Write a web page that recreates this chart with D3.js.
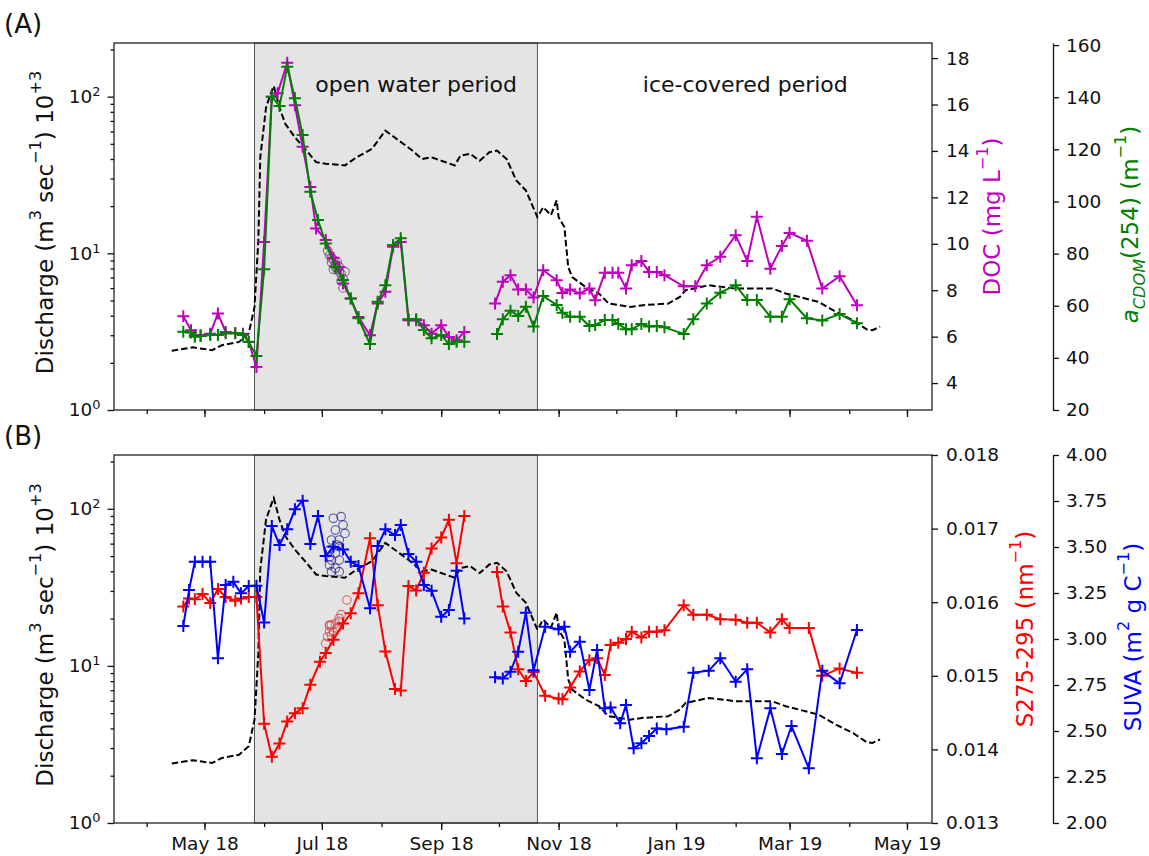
<!DOCTYPE html>
<html>
<head>
<meta charset="utf-8">
<script src="https://cdn.jsdelivr.net/npm/d3@7"></script>
<style>
body { margin: 0; background: #fff; }
svg { font-family: "DejaVu Sans", sans-serif; }
</style>
</head>
<body>
<div class="chart"></div>
<script>
const width = 1149
const height = 856

// discharge, 10^3 m3/s (same record in both panels)
const discharge = [
    ["2018-04-14", 2.39], ["2018-04-25", 2.51], ["2018-05-05", 2.41], ["2018-05-10", 2.59],
    ["2018-05-19", 2.72], ["2018-05-24", 3.08], ["2018-05-27", 4.55], ["2018-05-29", 12.1],
    ["2018-05-30", 41], ["2018-06-02", 85.5], ["2018-06-05", 109], ["2018-06-06", 117],
    ["2018-06-09", 85], ["2018-06-12", 67], ["2018-06-17", 55], ["2018-06-23", 45.3],
    ["2018-06-28", 38.2], ["2018-07-03", 37.3], ["2018-07-13", 36.4], ["2018-07-19", 41],
    ["2018-07-27", 46.4], ["2018-08-03", 60.7], ["2018-08-10", 52.5], ["2018-08-17", 45.3],
    ["2018-08-22", 40], ["2018-08-27", 41], ["2018-09-08", 36.4], ["2018-09-11", 42],
    ["2018-09-16", 43.2], ["2018-09-21", 39], ["2018-09-26", 44.2], ["2018-09-30", 45.3],
    ["2018-10-05", 40], ["2018-10-10", 29.2], ["2018-10-15", 25.2], ["2018-10-18", 20.7],
    ["2018-10-21", 17], ["2018-10-24", 19.7], ["2018-10-28", 17.5], ["2018-10-31", 21.8],
    ["2018-11-01", 17], ["2018-11-04", 14.7], ["2018-11-06", 8.18], ["2018-11-08", 7.06],
    ["2018-11-15", 6.1], ["2018-11-22", 5.54], ["2018-11-27", 4.78], ["2018-12-08", 4.55],
    ["2018-12-15", 4.67], ["2018-12-28", 4.78], ["2019-01-03", 5.27], ["2019-01-06", 5.81],
    ["2019-01-18", 6.25], ["2019-02-01", 5.96], ["2019-02-20", 5.96], ["2019-02-27", 5.54],
    ["2019-03-16", 4.9], ["2019-03-25", 4.23], ["2019-04-03", 3.74], ["2019-04-10", 3.27],
    ["2019-04-13", 3.23], ["2019-04-17", 3.4]
]

// DOC, mg/L
const doc = [
    ["2018-04-20", 6.88], ["2018-04-24", 6.28], ["2018-04-26", 6.06], ["2018-04-29", 6.06],
    ["2018-05-04", 6.13], ["2018-05-08", 7.0], ["2018-05-12", 6.2], ["2018-05-17", 6.16],
    ["2018-05-21", 6.13], ["2018-05-24", 5.77], ["2018-05-28", 4.69],
    ["2018-06-01", 10.08], ["2018-06-05", 16.33], ["2018-06-08", 16.48], ["2018-06-13", 17.8],
    ["2018-06-17", 15.97], ["2018-06-21", 14.18], ["2018-06-25", 12.45], ["2018-06-28", 10.66],
    ["2018-07-03", 10.16], ["2018-07-07", 9.4], ["2018-07-10", 9.0], ["2018-07-12", 8.29],
    ["2018-07-16", 7.64], ["2018-07-20", 6.85], ["2018-07-26", 6.06], ["2018-07-30", 7.43],
    ["2018-08-03", 7.93], ["2018-08-07", 9.87], ["2018-08-11", 10.08], ["2018-08-15", 6.71],
    ["2018-08-19", 6.71], ["2018-08-23", 6.49], ["2018-08-27", 6.13], ["2018-09-01", 6.49],
    ["2018-09-05", 5.99], ["2018-09-09", 5.84], ["2018-09-13", 6.2],
    ["2018-09-20", null],
    ["2018-09-29", 7.43], ["2018-10-03", 8.36], ["2018-10-07", 8.65], ["2018-10-11", 8.03],
    ["2018-10-15", 8.03], ["2018-10-19", 7.69], ["2018-10-24", 8.86], ["2018-10-31", 8.43],
    ["2018-11-03", 7.88], ["2018-11-07", 8.03], ["2018-11-12", 7.86], ["2018-11-17", 8.07],
    ["2018-11-20", 7.57], ["2018-11-25", 8.75], ["2018-11-29", 8.75], ["2018-12-02", 8.75],
    ["2018-12-06", 8.07], ["2018-12-09", 9.08], ["2018-12-14", 9.26], ["2018-12-18", 8.79],
    ["2018-12-22", 8.79], ["2018-12-26", 8.65], ["2019-01-05", 8.17], ["2019-01-11", 8.17],
    ["2019-01-17", 9.08], ["2019-01-24", 9.44], ["2019-02-01", 10.37], ["2019-02-07", 9.26],
    ["2019-02-12", 11.16], ["2019-02-19", 8.93], ["2019-02-25", 9.9], ["2019-03-01", 10.47],
    ["2019-03-10", 10.13], ["2019-03-18", 8.07], ["2019-03-27", 8.6], ["2019-04-05", 7.35]
]

// aCDOM(254), 1/m
const acdom = [
    ["2018-04-20", 50.0], ["2018-04-24", 49.7], ["2018-04-26", 48.1], ["2018-04-29", 48.4],
    ["2018-05-04", 48.8], ["2018-05-08", 48.8], ["2018-05-12", 49.4], ["2018-05-17", 49.4],
    ["2018-05-21", 48.8], ["2018-05-24", 46.2], ["2018-05-28", 40.7],
    ["2018-06-01", 74.0], ["2018-06-05", 140.2], ["2018-06-09", 136.6], ["2018-06-13", 151.7],
    ["2018-06-17", 139.6], ["2018-06-21", 125.5], ["2018-06-25", 103.7], ["2018-06-29", 92.9],
    ["2018-07-03", 83.9], ["2018-07-08", 75.0], ["2018-07-12", 69.9], ["2018-07-16", 62.8],
    ["2018-07-20", 55.2], ["2018-07-26", 45.3], ["2018-07-30", 61.5], ["2018-08-03", 67.9],
    ["2018-08-07", 83.3], ["2018-08-11", 85.9], ["2018-08-15", 54.8], ["2018-08-19", 54.8],
    ["2018-08-23", 50.7], ["2018-08-27", 47.5], ["2018-09-01", 48.8], ["2018-09-05", 45.3],
    ["2018-09-09", 46.2], ["2018-09-13", 46.2],
    ["2018-09-20", null],
    ["2018-09-30", 49.2], ["2018-10-03", 54.8], ["2018-10-07", 58.1], ["2018-10-11", 56.1],
    ["2018-10-15", 59.6], ["2018-10-19", 52.0], ["2018-10-24", 63.7], ["2018-10-31", 60.3],
    ["2018-11-03", 57.3], ["2018-11-07", 55.8], ["2018-11-12", 55.8], ["2018-11-17", 52.2],
    ["2018-11-20", 52.6], ["2018-11-25", 54.5], ["2018-11-29", 54.5], ["2018-12-02", 53.0],
    ["2018-12-06", 51.0], ["2018-12-09", 51.0], ["2018-12-14", 53.0], ["2018-12-18", 52.0],
    ["2018-12-22", 52.2], ["2018-12-26", 51.7], ["2019-01-05", 49.2], ["2019-01-10", 54.8],
    ["2019-01-17", 60.9], ["2019-01-24", 65.0], ["2019-02-01", 67.9], ["2019-02-07", 62.2],
    ["2019-02-12", 62.2], ["2019-02-19", 55.8], ["2019-02-25", 55.8], ["2019-03-01", 62.5],
    ["2019-03-10", 55.2], ["2019-03-18", 54.3], ["2019-03-27", 56.8], ["2019-04-05", 53.3]
]

// high frequency DOC samples (circles)
const docCircles = [
    ["2018-07-04", 9.7], ["2018-07-05", 9.5], ["2018-07-06", 9.4], ["2018-07-06", 9.2],
    ["2018-07-07", 9.3], ["2018-07-08", 9.1], ["2018-07-08", 9.0], ["2018-07-09", 9.2],
    ["2018-07-09", 8.9], ["2018-07-10", 8.8], ["2018-07-10", 9.0], ["2018-07-11", 8.7],
    ["2018-07-11", 8.4], ["2018-07-12", 8.1], ["2018-07-12", 8.5], ["2018-07-13", 8.8],
    ["2018-07-07", 8.9]
]

// spectral slope S275-295, 1/nm
const slope = [
    ["2018-04-20", 0.01594], ["2018-04-23", 0.01605], ["2018-04-26", 0.01604], ["2018-04-30", 0.01611],
    ["2018-05-04", 0.01599], ["2018-05-08", 0.01618], ["2018-05-12", 0.01607], ["2018-05-17", 0.01602],
    ["2018-05-20", 0.01605], ["2018-05-24", 0.01607], ["2018-05-28", 0.01607],
    ["2018-06-01", 0.01435], ["2018-06-05", 0.0139], ["2018-06-09", 0.01408], ["2018-06-13", 0.01438],
    ["2018-06-17", 0.01449], ["2018-06-21", 0.01456], ["2018-06-25", 0.01488], ["2018-06-30", 0.01519],
    ["2018-07-03", 0.01531], ["2018-07-07", 0.01549], ["2018-07-12", 0.01571], ["2018-07-16", 0.01585],
    ["2018-07-20", 0.01612], ["2018-07-26", 0.01687], ["2018-07-30", 0.01596], ["2018-08-03", 0.01533],
    ["2018-08-08", 0.01482], ["2018-08-11", 0.0148], ["2018-08-15", 0.01622], ["2018-08-19", 0.01616],
    ["2018-08-23", 0.0164], ["2018-08-27", 0.01673], ["2018-09-01", 0.01688], ["2018-09-05", 0.01712],
    ["2018-09-09", 0.01653], ["2018-09-13", 0.01717],
    ["2018-09-20", null],
    ["2018-09-30", 0.01641], ["2018-10-03", 0.01594], ["2018-10-07", 0.01559], ["2018-10-11", 0.01509],
    ["2018-10-15", 0.01493], ["2018-10-19", 0.01505], ["2018-10-25", 0.01473], ["2018-11-01", 0.01469],
    ["2018-11-03", 0.01468], ["2018-11-07", 0.01484], ["2018-11-12", 0.01506], ["2018-11-17", 0.01521],
    ["2018-11-21", 0.01524], ["2018-11-25", 0.01501], ["2018-11-28", 0.01542], ["2018-12-02", 0.01545],
    ["2018-12-06", 0.0155], ["2018-12-09", 0.0156], ["2018-12-14", 0.01552], ["2018-12-18", 0.0156],
    ["2018-12-22", 0.0156], ["2018-12-26", 0.01562], ["2019-01-05", 0.01596], ["2019-01-10", 0.01583],
    ["2019-01-17", 0.01583], ["2019-01-24", 0.01577], ["2019-02-01", 0.01576], ["2019-02-07", 0.01572],
    ["2019-02-12", 0.01572], ["2019-02-19", 0.01559], ["2019-02-25", 0.01577], ["2019-03-01", 0.01565],
    ["2019-03-11", 0.01565], ["2019-03-18", 0.015], ["2019-03-27", 0.0151], ["2019-04-05", 0.01504]
]

const slopeCircles = [
    ["2018-07-14", 0.01603], ["2018-07-11", 0.01583], ["2018-07-10", 0.01578], ["2018-07-08", 0.01571],
    ["2018-07-06", 0.01569], ["2018-07-05", 0.01568], ["2018-07-05", 0.0156], ["2018-07-04", 0.01553],
    ["2018-07-03", 0.01544], ["2018-07-06", 0.01555], ["2018-07-07", 0.01559], ["2018-07-09", 0.01565],
    ["2018-07-10", 0.01574], ["2018-07-05", 0.01569]
]

// SUVA, m2/gC
const suva = [
    ["2018-04-20", 3.071], ["2018-04-23", 3.266], ["2018-04-26", 3.42], ["2018-04-30", 3.42],
    ["2018-05-04", 3.42], ["2018-05-08", 2.895], ["2018-05-12", 3.293], ["2018-05-16", 3.311],
    ["2018-05-20", 3.248], ["2018-05-24", 3.288], ["2018-05-28", 3.29],
    ["2018-06-01", 3.089], ["2018-06-05", 3.614], ["2018-06-09", 3.511], ["2018-06-13", 3.596],
    ["2018-06-17", 3.705], ["2018-06-21", 3.752], ["2018-06-25", 3.516], ["2018-06-29", 3.668],
    ["2018-07-03", 3.451], ["2018-07-07", 3.502], ["2018-07-12", 3.487], ["2018-07-16", 3.42],
    ["2018-07-20", 3.397], ["2018-07-26", 3.167], ["2018-07-30", 3.505], ["2018-08-03", 3.596],
    ["2018-08-08", 3.565], ["2018-08-11", 3.62], ["2018-08-15", 3.462], ["2018-08-19", 3.42],
    ["2018-08-23", 3.293], ["2018-08-27", 3.262], ["2018-09-01", 3.121], ["2018-09-05", 3.158],
    ["2018-09-09", 3.371], ["2018-09-13", 3.112],
    ["2018-09-20", null],
    ["2018-09-29", 2.792], ["2018-10-03", 2.786], ["2018-10-07", 2.822], ["2018-10-11", 2.931],
    ["2018-10-15", 3.143], ["2018-10-19", 2.83], ["2018-10-25", 3.067], ["2018-11-01", 3.053],
    ["2018-11-04", 3.067], ["2018-11-07", 2.931], ["2018-11-12", 2.985], ["2018-11-17", 2.723],
    ["2018-11-21", 2.94], ["2018-11-25", 2.623], ["2018-11-28", 2.628], ["2018-12-03", 2.542],
    ["2018-12-06", 2.641], ["2018-12-10", 2.406], ["2018-12-14", 2.433], ["2018-12-18", 2.473],
    ["2018-12-22", 2.514], ["2018-12-27", 2.509], ["2019-01-05", 2.523], ["2019-01-10", 2.817],
    ["2019-01-18", 2.828], ["2019-01-24", 2.895], ["2019-02-01", 2.768], ["2019-02-07", 2.835],
    ["2019-02-12", 2.352], ["2019-02-19", 2.623], ["2019-02-25", 2.375], ["2019-03-02", 2.527],
    ["2019-03-11", 2.297], ["2019-03-18", 2.828], ["2019-03-27", 2.759], ["2019-04-05", 3.049]
]

const suvaCircles = [
    ["2018-07-07", 3.656], ["2018-07-11", 3.665], ["2018-07-08", 3.592], ["2018-07-12", 3.62],
    ["2018-07-13", 3.574], ["2018-07-06", 3.538], ["2018-07-10", 3.538], ["2018-07-10", 3.502],
    ["2018-07-05", 3.484], ["2018-07-08", 3.466], ["2018-07-06", 3.429], ["2018-07-10", 3.429],
    ["2018-07-05", 3.402], ["2018-07-08", 3.384], ["2018-07-06", 3.366], ["2018-07-10", 3.366],
    ["2018-07-05", 3.447], ["2018-07-09", 3.511]
]

const openWater = ["2018-05-27", "2018-10-21"]
const dischargeTicks = [1, 10, 100]
const docTicks = [4, 6, 8, 10, 12, 14, 16, 18]
const acdomTicks = [20, 40, 60, 80, 100, 120, 140, 160]
const slopeTicks = [0.013, 0.014, 0.015, 0.016, 0.017, 0.018]
const suvaTicks = [2.0, 2.25, 2.5, 2.75, 3.0, 3.25, 3.5, 3.75, 4.0]

const parse = d3.utcParse("%Y-%m-%d")
const tickFont = 18.5
const labelFont = 23

const svg = d3.select(".chart")
    .append("svg")
    .attr("width", width)
    .attr("height", height)

const left = 114, right = 932, offsetAxis = 1053

const x = d3.scaleUtc()
    .domain([parse("2018-03-15"), parse("2019-05-14")])
    .range([left, right])

// text with super/subscripts: parts = [text, "sup"|"sub"|"", italic]
function rich(text, parts) {
    parts.forEach(p => {
        const t = text.append("tspan").text(p[0])
        if (p[1] === "sup") t.attr("baseline-shift", "super").attr("font-size", "70%")
        if (p[1] === "sub") t.attr("baseline-shift", "sub").attr("font-size", "70%")
        if (p[2]) t.attr("font-style", "italic")
    })
}

function styleAxis(ax) {
    ax.attr("font-size", tickFont).attr("font-family", "DejaVu Sans")
    ax.selectAll("path.domain").attr("stroke", "#111").attr("stroke-width", 1.3)
    ax.selectAll(".tick line").attr("stroke", "#111").attr("stroke-width", 1.3)
    ax.selectAll(".tick text").attr("fill", "#111")
}

function drawPanel(p) {
    const top = p.top, bottom = p.bottom
    const g = svg.append("g")

    const yQ = d3.scaleLog().domain([1, 220]).range([bottom, top])
    const y1 = d3.scaleLinear().domain(p.dom1).range([bottom, top])
    const y2 = d3.scaleLinear().domain(p.dom2).range([bottom, top])

    // open water shading
    const x0 = x(parse(openWater[0])), x1 = x(parse(openWater[1]))
    g.append("rect")
        .attr("x", x0).attr("y", top)
        .attr("width", x1 - x0).attr("height", bottom - top)
        .attr("fill", "#e4e4e4")
        .attr("stroke", "#555")
        .attr("stroke-width", 1)

    if (p.texts) {
        p.texts.forEach(t => {
            g.append("text")
                .attr("x", x(parse(t[1])))
                .attr("y", top + 48.5)
                .attr("text-anchor", "middle")
                .attr("font-size", 22)
                .attr("fill", "#111")
                .text(t[0])
        })
    }

    // discharge
    g.append("path")
        .datum(discharge)
        .attr("fill", "none")
        .attr("stroke", "#000")
        .attr("stroke-width", 2)
        .attr("stroke-dasharray", "6.5,3")
        .attr("d", d3.line().x(d => x(parse(d[0]))).y(d => yQ(d[1])))

    const series = [
        {data: p.s1, y: y1, color: p.c1, circles: p.circ1, circColor: p.cc1},
        {data: p.s2, y: y2, color: p.c2, circles: p.circ2, circColor: p.cc2}
    ]
    series.forEach(s => {
        if (s.circles) {
            g.selectAll(null)
                .data(s.circles)
                .enter().append("circle")
                .attr("cx", d => x(parse(d[0])))
                .attr("cy", d => s.y(d[1]))
                .attr("r", 4.3)
                .attr("fill", "none")
                .attr("stroke", s.circColor)
                .attr("stroke-opacity", 0.75)
                .attr("stroke-width", 1.1)
        }
        g.append("path")
            .datum(s.data)
            .attr("fill", "none")
            .attr("stroke", s.color)
            .attr("stroke-width", 2)
            .attr("d", d3.line()
                .defined(d => d[1] != null)
                .x(d => x(parse(d[0])))
                .y(d => s.y(d[1])))
        g.selectAll(null)
            .data(s.data.filter(d => d[1] != null))
            .enter().append("path")
            .attr("transform", d => `translate(${x(parse(d[0]))},${s.y(d[1])})`)
            .attr("d", "M-6,0H6M0,-6V6")
            .attr("stroke", s.color)
            .attr("stroke-width", 2)
    })

    // frame
    g.append("rect")
        .attr("x", left).attr("y", top)
        .attr("width", right - left).attr("height", bottom - top)
        .attr("fill", "none")
        .attr("stroke", "#222")
        .attr("stroke-width", 1.3)

    // x axis: minor monthly, major every two months
    const xMinor = g.append("g")
        .attr("transform", `translate(0,${bottom})`)
        .call(d3.axisBottom(x).ticks(d3.utcMonth.every(1)).tickSize(4).tickFormat(""))
    xMinor.select("path.domain").remove()
    styleAxis(xMinor)
    const xMajor = g.append("g")
        .attr("transform", `translate(0,${bottom})`)
        .call(d3.axisBottom(x).ticks(d3.utcMonth.every(2)).tickSize(7).tickPadding(7)
            .tickFormat(p.xLabels ? d3.utcFormat("%b %y") : ""))
    xMajor.select("path.domain").remove()
    styleAxis(xMajor)

    // left log axis
    const minor = []
    for (let e = 0; e < 3; e++) for (let m = 2; m <= 9; m++) {
        const v = m * Math.pow(10, e)
        if (v <= 220) minor.push(v)
    }
    const yMinor = g.append("g")
        .attr("transform", `translate(${left},0)`)
        .call(d3.axisLeft(yQ).tickValues(minor).tickSize(3.5).tickFormat(""))
    yMinor.select("path.domain").remove()
    styleAxis(yMinor)
    const yMajor = g.append("g")
        .attr("transform", `translate(${left},0)`)
        .call(d3.axisLeft(yQ).tickValues(dischargeTicks).tickSize(6.5).tickPadding(7).tickFormat(""))
    yMajor.select("path.domain").remove()
    styleAxis(yMajor)
    yMajor.selectAll(".tick text").each(function(d) {
        rich(d3.select(this), [["10", ""], [String(Math.round(Math.log10(d))), "sup"]])
    })

    // right axis on the frame
    const yR1 = g.append("g")
        .attr("transform", `translate(${right},0)`)
        .call(d3.axisRight(y1).tickValues(p.ticks1).tickSize(6).tickPadding(8)
            .tickSizeOuter(0).tickFormat(p.fmt1))
    yR1.select("path.domain").remove()
    styleAxis(yR1)

    // offset right axis
    const yR2 = g.append("g")
        .attr("transform", `translate(${offsetAxis},0)`)
        .call(d3.axisRight(y2).tickValues(p.ticks2).tickSize(6).tickPadding(7)
            .tickSizeOuter(0).tickFormat(p.fmt2))
    styleAxis(yR2)

    // axis labels
    const lab = (xp, yp, color, parts) => {
        const t = g.append("text")
            .attr("transform", `translate(${xp},${yp}) rotate(-90)`)
            .attr("text-anchor", "middle")
            .attr("dominant-baseline", "central")
            .attr("font-size", labelFont)
            .attr("fill", color)
        rich(t, parts)
    }
    lab(45, (top + bottom) / 2 - 4, "#111",
        [["Discharge (m", ""], ["3", "sup"], [" sec", ""], ["\u22121", "sup"], [") 10", ""], ["+3", "sup"]])
    lab(p.l1x, (top + bottom) / 2 - 10, p.c1, p.label1)
    lab(p.l2x, (top + bottom) / 2 - 2, p.c2, p.label2)

    svg.append("text")
        .attr("x", 4).attr("y", top - 10)
        .attr("font-size", 26)
        .attr("fill", "#111")
        .text(p.name)
}

drawPanel({
    name: "(A)", top: 43, bottom: 410,
    s1: doc, c1: "#bf00bf", dom1: [2.84, 18.65], ticks1: docTicks, fmt1: d3.format("d"),
    s2: acdom, c2: "#008000", dom2: [20, 160.8], ticks2: acdomTicks, fmt2: d3.format("d"),
    circ1: docCircles, cc1: "#6a3a6a",
    l1x: 992, l2x: 1130,
    label1: [["DOC (mg L", ""], ["\u22121", "sup"], [")", ""]],
    label2: [["a", "", true], ["CDOM", "sub", true], ["(254) (m", ""], ["\u22121", "sup"], [")", ""]],
    texts: [["open water period", "2018-08-19"], ["ice-covered period", "2019-02-06"]],
    xLabels: false
})

drawPanel({
    name: "(B)", top: 455, bottom: 823,
    s1: slope, c1: "#ff0000", dom1: [0.013, 0.018], ticks1: slopeTicks, fmt1: d3.format(".3f"),
    s2: suva, c2: "#0000ff", dom2: [2, 4], ticks2: suvaTicks, fmt2: d3.format(".2f"),
    circ1: slopeCircles, cc1: "#d04040", circ2: suvaCircles, cc2: "#28288a",
    l1x: 1025, l2x: 1133,
    label1: [["S275-295 (nm", ""], ["\u22121", "sup"], [")", ""]],
    label2: [["SUVA (m", ""], ["2", "sup"], [" g C", ""], ["\u22121", "sup"], [")", ""]],
    xLabels: true
})
</script>
</body>
</html>
